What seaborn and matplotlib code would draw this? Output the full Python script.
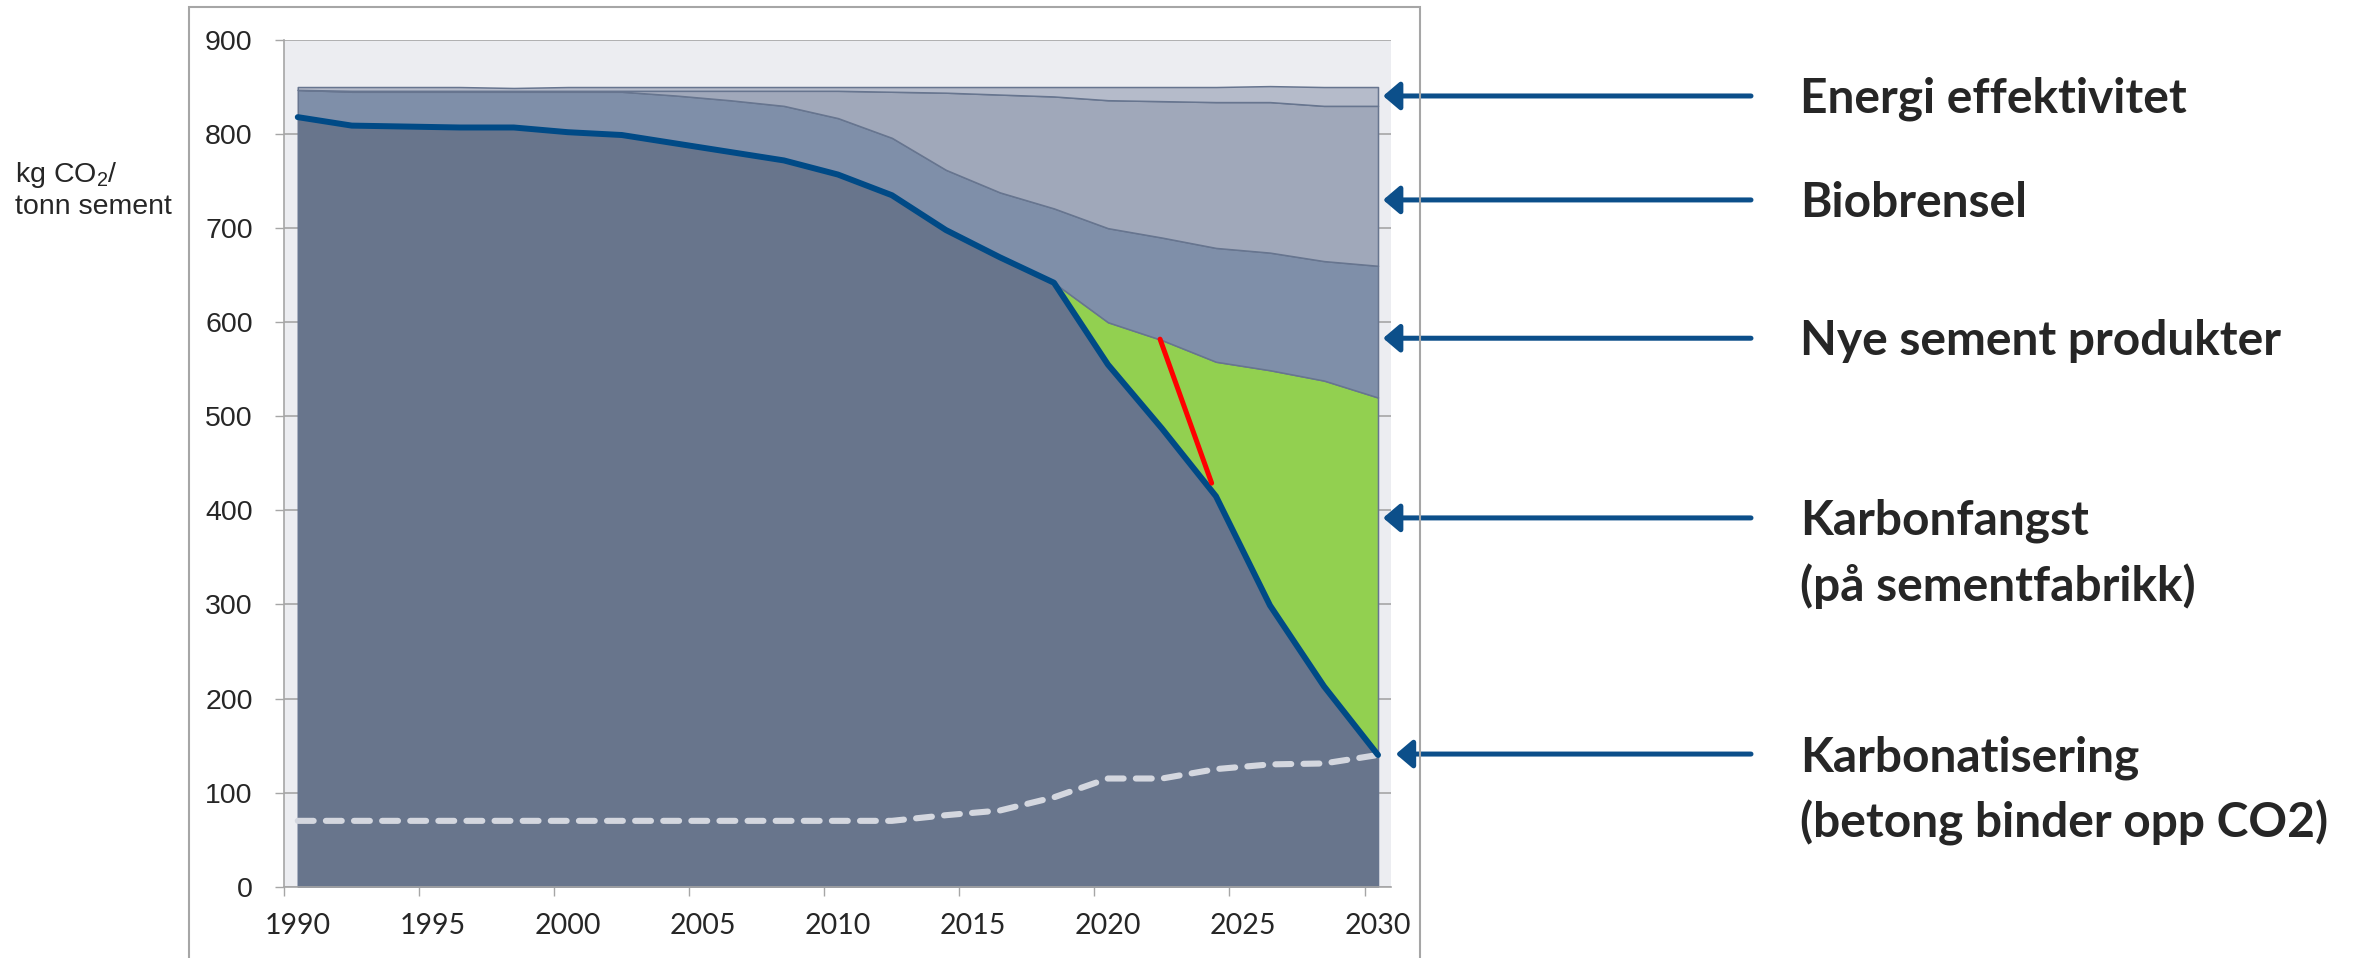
import numpy as np
import matplotlib
matplotlib.use("Agg")
import matplotlib.pyplot as plt
from matplotlib import transforms
from matplotlib.patches import Rectangle
import seaborn as sns

sns.set_theme(style="white")

# --- data (kg CO2 / tonn sement) ---
years = [1990, 1992, 1994, 1996, 1998, 2000, 2002, 2004, 2006, 2008, 2010,
         2012, 2014, 2016, 2018, 2020, 2022, 2024, 2026, 2028, 2030]
# tykk blå linje = gjenværende utslipp
remaining = [818, 809, 808, 807, 807, 802, 799, 790, 781, 772, 757,
             735, 698, 669, 642, 555, 487, 415, 299, 213, 140]
# øvre kant av hvert lag (kumulativt)
capture_top = [818, 809, 808, 807, 807, 802, 799, 790, 781, 772, 757,
               735, 698, 669, 642, 600, 581, 558, 549, 538, 520]
products_top = [847, 845, 845, 845, 845, 845, 845, 841, 836, 830, 817,
                796, 762, 738, 721, 700, 690, 679, 674, 665, 660]
biofuel_top = [847, 846, 846, 846, 846, 846, 846, 846, 846, 846, 846,
               845, 844, 842, 840, 836, 835, 834, 834, 830, 830]
energy_top = [850, 850, 850, 850, 849, 850, 850, 850, 850, 850, 850,
              850, 850, 850, 850, 850, 850, 850, 851, 850, 850]
# stiplet linje = karbonatisering
carbonation = [70, 70, 70, 70, 70, 70, 70, 70, 70, 70, 70,
               70, 76, 81, 95, 115, 115, 125, 130, 131, 140]
# rød markering
red_x = [2021.93, 2023.84]
red_y = [582, 429]

label_years = [1990, 1995, 2000, 2005, 2010, 2015, 2020, 2025, 2030]
y_ticks = [0, 100, 200, 300, 400, 500, 600, 700, 800, 900]

labels = [
    (["Energi effektivitet"], 840.5, 0.5831),
    (["Biobrensel"], 730, 0.5831),
    (["Nye sement produkter"], 583, 0.5831),
    (["Karbonfangst", "(på sementfabrikk)"], 392, 0.5831),
    (["Karbonatisering", "(betong binder opp CO2)"], 141, 0.5885),
]

layer_colors = ["#68758C", "#92D050", "#7F8FA9", "#A0A8BA", "#B5BBCA"]
edge_col = "#67758F"
blue = "#004A86"
arrow_col = "#0C4F8A"
grey = "#A6A6A6"

W, H = 2372, 958
fig = plt.figure(figsize=(W / 100, H / 100), dpi=100)
ax = fig.add_axes([284 / W, 1 - 886.7 / H, (1390.7 - 284) / W, (886.7 - 40) / H])
ax.set_facecolor("#ECEDF1")

levels = [np.array(remaining), np.array(capture_top), np.array(products_top),
          np.array(biofuel_top), np.array(energy_top)]
layers = [levels[0]] + [levels[i] - levels[i - 1] for i in range(1, 5)]
ax.stackplot(years, *layers, colors=layer_colors, edgecolor=edge_col, linewidth=1.1)

sns.lineplot(x=years, y=carbonation, ax=ax, color="#D4D7DF", lw=4.4,
             linestyle=(0, (2.6, 2.0)), dash_capstyle="round", zorder=3)
sns.lineplot(x=years, y=remaining, ax=ax, color=blue, lw=4.3,
             solid_capstyle="round", solid_joinstyle="round", zorder=4)
sns.lineplot(x=red_x, y=red_y, ax=ax, color="#FF0000", lw=3.6, zorder=5)

ax.set_xlim(1989.49, 2030.47)
ax.set_ylim(0, 900)
ax.set_axisbelow(True)
ax.yaxis.grid(True, color=grey, lw=1.2)
ax.xaxis.grid(False)
for s in ["top", "right"]:
    ax.spines[s].set_visible(False)
for s in ["left", "bottom"]:
    ax.spines[s].set_color(grey)
    ax.spines[s].set_linewidth(1.2)

ax.set_yticks(y_ticks)
ax.set_yticklabels([str(v) for v in y_ticks], fontsize=20.5, family="Liberation Sans")
ax.tick_params(axis="y", direction="out", length=6.5, width=1, color=grey, pad=16,
               left=True)
ax.set_xticks(label_years)
ax.set_xticklabels([str(v) for v in label_years], fontsize=20.5, family="Lato")
ax.set_xticks([v - 0.5 for v in label_years], minor=True)
ax.tick_params(axis="x", which="major", length=0, pad=19)
ax.tick_params(axis="x", which="minor", direction="out", length=6.5, width=1,
               color=grey, bottom=True)
ax.set_xlabel("")
ax.set_ylabel("")

# ytre ramme rundt diagrammet
fig.patches.append(Rectangle((189 / W, -0.05), (1420 - 189) / W, 0.05 + (958 - 7) / H,
                             transform=fig.transFigure, fill=False,
                             edgecolor=grey, lw=1.5))

fig.text(15 / W, 1 - 190 / H, "kg CO$_\\mathregular{2}$/\ntonn sement", fontsize=20.5,
         family="Liberation Sans", va="center", ha="left", linespacing=1.15)

bt = transforms.blended_transform_factory(fig.transFigure, ax.transData)
for lines, val, tip in labels:
    ax.annotate("", xy=(tip, val), xycoords=bt, xytext=(1751 / W, val), textcoords=bt,
                arrowprops=dict(arrowstyle="-|>,head_length=10,head_width=8.5",
                                mutation_scale=1, lw=3.6, color=arrow_col,
                                shrinkA=0, shrinkB=0),
                annotation_clip=False)
    for i, line in enumerate(lines):
        tr = transforms.offset_copy(bt, fig=fig, y=-17 - 66 * i, units="dots")
        fig.text(1800 / W, val, line, transform=tr, fontsize=34.5, family="Lato",
                 fontweight="bold", va="baseline", ha="left")

fig.savefig("out.png", dpi=100)
